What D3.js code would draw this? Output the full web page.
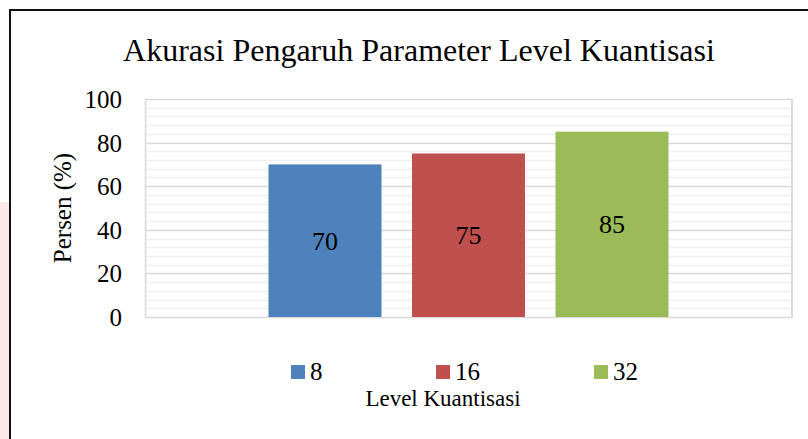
<!DOCTYPE html>
<html><head><meta charset="utf-8">
<script src="https://cdn.jsdelivr.net/npm/d3@7"></script>
<style>body{margin:0;background:#fff;} svg{display:block;}</style>
</head><body>
<svg id="c" width="808" height="439"></svg>
<script>
const categories = ["Level Kuantisasi"];
const seriesNames = ["8", "16", "32"];
const seriesValues = [70, 75, 85];
const seriesColors = ["#4f81bd", "#c0504d", "#9bbb59"];
const yTicks = [0, 20, 40, 60, 80, 100];
const minorTicks = d3.range(0, 101, 4);
const titleText = "Akurasi Pengaruh Parameter Level Kuantisasi";
const yTitle = "Persen (%)";
const xTitle = "Level Kuantisasi";

const FONT = "'Liberation Serif', 'Times New Roman', 'DejaVu Serif', serif";
const svg = d3.select("#c");
const W = 808, H = 439;
// pink strip & outer border
svg.append("rect").attr("x",0).attr("y",202).attr("width",9).attr("height",H-202).attr("fill","#fde8e8");
svg.append("path").attr("d",`M10,${H} L10,10 L${W},10`).attr("fill","none").attr("stroke","#111").attr("stroke-width",2);

const L = 145, R = 792, T = 99, B = 317;
const y = d3.scaleLinear().domain([0,100]).range([B,T]);
const x0 = d3.scaleBand().domain(categories).range([L,R]).paddingOuter(0.30875).paddingInner(0);
const x1 = d3.scaleBand().domain(seriesNames).range([0,x0.bandwidth()]).paddingInner(0.2125).paddingOuter(0);

// minor grid
svg.append("g").selectAll("line").data(minorTicks.filter(d=>d%20!==0)).join("line")
  .attr("x1",L).attr("x2",R).attr("y1",d=>Math.round(y(d))+0.5).attr("y2",d=>Math.round(y(d))+0.5)
  .attr("stroke","#f0f0f0").attr("stroke-width",1.5);
// major grid
svg.append("g").selectAll("line").data(yTicks).join("line")
  .attr("x1",L).attr("x2",R).attr("y1",d=>Math.round(y(d))+0.5).attr("y2",d=>Math.round(y(d))+0.5)
  .attr("stroke","#d9d9d9").attr("stroke-width",1.5);
svg.append("line").attr("x1",L+0.5).attr("x2",L+0.5).attr("y1",T).attr("y2",B).attr("stroke","#d9d9d9").attr("stroke-width",1.5);
svg.append("line").attr("x1",R).attr("x2",R).attr("y1",T).attr("y2",B+1).attr("stroke","#d9d9d9").attr("stroke-width",2);

// y axis labels
const ya = d3.axisLeft(y).tickValues(yTicks).tickSize(0).tickPadding(0);
const yg = svg.append("g").attr("transform",`translate(122,0)`).call(ya);
yg.attr("font-family", null).attr("font-size", null);
yg.select(".domain").remove();
yg.selectAll("text").style("font-family",FONT).style("font-size","25px").attr("fill","#000").attr("dy","0.34em");

// bars
const g = svg.append("g");
categories.forEach(c=>{
  seriesNames.forEach((s,i)=>{
    const v = seriesValues[i];
    g.append("rect").attr("x",x0(c)+x1(s)).attr("y",y(v)).attr("width",x1.bandwidth()).attr("height",y(0)-y(v)).attr("fill",seriesColors[i]);
    g.append("text").attr("x",x0(c)+x1(s)+x1.bandwidth()/2).attr("y",(y(v)+y(0))/2).attr("dy","0.35em")
      .attr("text-anchor","middle").style("font-family",FONT).style("font-size","26px").text(v);
  });
});

// title
svg.append("text").attr("x",419).attr("y",61).attr("text-anchor","middle").style("font-family",FONT).style("font-size","32px").text(titleText);
// y title
svg.append("text").attr("transform","translate(71,208) rotate(-90)").attr("text-anchor","middle").style("font-family",FONT).style("font-size","25px").text(yTitle);
// legend
const legX = [291, 436, 594];
seriesNames.forEach((s,i)=>{
  svg.append("rect").attr("x",legX[i]).attr("y",365).attr("width",14).attr("height",14).attr("fill",seriesColors[i]);
  svg.append("text").attr("x",legX[i]+19).attr("y",380).style("font-family",FONT).style("font-size","25px").text(s);
});
// x title
svg.append("text").attr("x",443).attr("y",406).attr("text-anchor","middle").style("font-family",FONT).style("font-size","23px").text(xTitle);
</script>
</body></html>
